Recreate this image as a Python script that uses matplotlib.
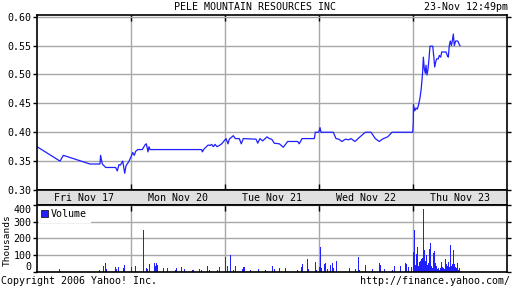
import matplotlib
matplotlib.use("Agg")
import matplotlib.pyplot as plt
from matplotlib.patches import Patch

plt.rcParams['font.family'] = ['DejaVu Sans Mono']
FS = 7.2

title = "PELE MOUNTAIN RESOURCES INC"
stamp = "23-Nov 12:49pm"
day_labels = ["Fri Nov 17", "Mon Nov 20", "Tue Nov 21", "Wed Nov 22", "Thu Nov 23"]
price_ticks = [0.30, 0.35, 0.40, 0.45, 0.50, 0.55, 0.60]
vol_ticks = [0, 100, 200, 300, 400]

# time in trading days since Fri open, price in $
price_t = [0.000, 0.245, 0.280, 0.564, 0.670, 0.676, 0.695, 0.731, 0.837, 0.854,
           0.872, 0.886, 0.912, 0.933, 0.947, 0.976, 0.982,
           1.007, 1.018, 1.035, 1.050, 1.071, 1.120, 1.149, 1.163, 1.181, 1.191,
           1.202, 1.752, 1.759, 1.777, 1.822, 1.840, 1.858, 1.876, 1.894, 1.915,
           1.939, 1.965,
           2.011, 2.032, 2.046, 2.088, 2.110, 2.152, 2.173, 2.195, 2.330, 2.348,
           2.372, 2.401, 2.447, 2.471, 2.497, 2.524, 2.578, 2.620, 2.667, 2.773,
           2.790, 2.819, 2.950, 2.961, 2.997,
           3.011, 3.021, 3.152, 3.181, 3.210, 3.245, 3.280, 3.316, 3.340, 3.383,
           3.429, 3.493, 3.553, 3.599, 3.641, 3.684, 3.731, 3.777, 3.997,
           4.003, 4.005, 4.018, 4.032, 4.046, 4.060, 4.074, 4.088, 4.103, 4.110,
           4.120, 4.131, 4.138, 4.149, 4.160, 4.170, 4.181, 4.210, 4.220, 4.231,
           4.242, 4.252, 4.269, 4.280, 4.295, 4.305, 4.351, 4.365, 4.376, 4.386,
           4.397, 4.408, 4.418, 4.429, 4.439, 4.454, 4.476, 4.489, 4.500]
price = [0.375, 0.350, 0.360, 0.345, 0.345, 0.360, 0.345, 0.339, 0.339, 0.333,
         0.344, 0.343, 0.350, 0.329, 0.342, 0.349, 0.351,
         0.360, 0.365, 0.360, 0.367, 0.370, 0.370, 0.378, 0.380, 0.366, 0.375,
         0.370, 0.370, 0.366, 0.371, 0.378, 0.377, 0.379, 0.375, 0.379, 0.375,
         0.377, 0.380,
         0.389, 0.380, 0.388, 0.394, 0.389, 0.389, 0.380, 0.389, 0.388, 0.381,
         0.389, 0.385, 0.392, 0.389, 0.388, 0.381, 0.380, 0.374, 0.384, 0.384,
         0.380, 0.389, 0.389, 0.400, 0.400,
         0.408, 0.400, 0.400, 0.389, 0.388, 0.384, 0.388, 0.387, 0.389, 0.384,
         0.391, 0.400, 0.400, 0.389, 0.384, 0.389, 0.392, 0.400, 0.400,
         0.418, 0.448, 0.437, 0.442, 0.440, 0.448, 0.459, 0.476, 0.505, 0.530,
         0.510, 0.502, 0.516, 0.499, 0.510, 0.527, 0.549, 0.549, 0.533, 0.513,
         0.522, 0.527, 0.527, 0.533, 0.530, 0.539, 0.539, 0.533, 0.530, 0.550,
         0.558, 0.550, 0.558, 0.570, 0.550, 0.558, 0.558, 0.553, 0.550]

# volume in thousands
vol_t = [0.241, 0.663, 0.705, 0.727, 0.737, 0.833, 0.851, 0.865, 0.915, 0.929,
         1.003, 1.046, 1.131, 1.163, 1.173, 1.195, 1.248, 1.263, 1.273, 1.287,
         1.344, 1.386, 1.476, 1.486, 1.532, 1.567, 1.652, 1.663, 1.727, 1.755,
         1.812, 1.840, 1.918, 1.939,
         2.003, 2.029, 2.056, 2.088, 2.110, 2.184, 2.195, 2.205, 2.269, 2.354,
         2.436, 2.503, 2.529, 2.578, 2.641, 2.766, 2.812, 2.822, 2.876, 2.886,
         2.961, 2.971,
         3.003, 3.014, 3.024, 3.056, 3.067, 3.088, 3.120, 3.141, 3.152, 3.184,
         3.322, 3.386, 3.418, 3.429, 3.493, 3.567, 3.641, 3.652, 3.695, 3.784,
         3.805, 3.869, 3.922, 3.933, 3.954, 3.986,
         4.007, 4.018, 4.029, 4.039, 4.050, 4.061, 4.071, 4.082, 4.093, 4.103,
         4.114, 4.125, 4.135, 4.146, 4.156, 4.167, 4.178, 4.188, 4.199, 4.210,
         4.220, 4.231, 4.241, 4.252, 4.263, 4.273, 4.284, 4.295, 4.305, 4.316,
         4.327, 4.337, 4.348, 4.359, 4.369, 4.380, 4.390, 4.401, 4.412, 4.422,
         4.433, 4.444, 4.454, 4.465, 4.476, 4.486, 4.497]
volume = [16, 10, 34, 52, 16, 28, 16, 30, 24, 40,
          28, 34, 250, 22, 16, 44, 52, 34, 50, 40,
          20, 20, 10, 20, 28, 16, 8, 8, 14, 8,
          34, 8, 8, 28,
          90, 34, 100, 8, 34, 14, 28, 28, 8, 16,
          8, 34, 14, 20, 20, 8, 28, 44, 76, 14,
          56, 8,
          28, 148, 20, 44, 52, 14, 40, 50, 20, 64,
          20, 14, 88, 8, 40, 16, 52, 40, 14, 10,
          34, 34, 50, 44, 28, 28,
          116, 250, 40, 104, 148, 34, 56, 64, 76, 80,
          376, 130, 64, 100, 40, 50, 136, 174, 34, 24,
          110, 124, 50, 34, 16, 24, 8, 20, 56, 28,
          20, 16, 76, 44, 34, 60, 28, 160, 34, 44,
          130, 44, 28, 20, 50, 10, 24]

blue = "#1f1fff"
grid_c = "#a8a8a8"
band_c = "#e0e0e0"

fig = plt.figure(figsize=(5.12, 2.88), dpi=100)
W, H = 512.0, 288.0

def box(l, t, r, b):
    return [l / W, 1 - b / H, (r - l) / W, (b - t) / H]

ax = fig.add_axes(box(37, 15, 507, 190))
band = fig.add_axes(box(37, 190, 507, 205))
axv = fig.add_axes(box(37, 205, 507, 271.5))

# price panel
ax.plot(price_t, price, color=blue, lw=0.9)
ax.set_xlim(0, 5)
ax.set_ylim(0.30, 0.603)
ax.set_yticks(price_ticks)
ax.set_yticklabels(["%.2f" % p for p in price_ticks], fontsize=FS)
ax.set_xticks([1, 2, 3, 4])
ax.tick_params(axis='x', direction='in', top=True, bottom=True, length=4,
               labelbottom=False, width=1)
ax.tick_params(axis='y', direction='out', right=True, length=3, pad=1, width=1)
ax.grid(True, color=grid_c, lw=1)
ax.set_axisbelow(True)
for s in ax.spines.values():
    s.set_linewidth(1.2)

# date band
band.set_facecolor(band_c)
band.set_xlim(0, 5)
band.set_ylim(0, 1)
band.set_xticks([])
band.set_yticks([])
for i, lab in enumerate(day_labels):
    band.text(i + 0.5, 0.45, lab, ha='center', va='center', fontsize=FS)
for s in band.spines.values():
    s.set_linewidth(1.2)

# volume panel
axv.bar(vol_t, volume, width=0.0106, color=blue, align='center',
        linewidth=0, antialiased=False)
axv.set_xlim(0, 5)
axv.set_ylim(0, 400)
axv.set_yticks(vol_ticks)
axv.set_yticklabels([str(v) for v in vol_ticks], fontsize=FS)
axv.get_yticklabels()[-1].set_va('top')
axv.get_yticklabels()[0].set_va('bottom')
axv.set_xticks([1, 2, 3, 4])
axv.tick_params(axis='x', direction='in', top=True, bottom=False, length=4,
                labelbottom=False, width=1)
axv.tick_params(axis='y', direction='out', right=True, length=3, pad=1, width=1)
axv.grid(True, color=grid_c, lw=1)
axv.set_axisbelow(True)
for s in axv.spines.values():
    s.set_linewidth(1.2)
leg = axv.legend(handles=[Patch(facecolor=blue, edgecolor='black', lw=0.5, label="Volume")],
                 loc='upper left', fontsize=FS, frameon=True, fancybox=False,
                 handlelength=0.7, handleheight=0.7, handletextpad=0.3,
                 borderpad=0.25, borderaxespad=0.15)
leg.get_frame().set_edgecolor('white')
leg.get_frame().set_facecolor('white')
leg.get_frame().set_alpha(1)

fig.text(7.5 / W, 1 - 240 / H, "Thousands", rotation=90, ha='center', va='center',
         fontsize=6.8)
fig.text(255.5 / W, 1 - 7 / H, title, ha='center', va='center', fontsize=FS)
fig.text(508 / W, 1 - 7 / H, stamp, ha='right', va='center', fontsize=FS)
fig.text(1 / W, 1 - 281 / H, "Copyright 2006 Yahoo! Inc.", ha='left', va='center', fontsize=FS)
fig.text(510 / W, 1 - 281 / H, "http://finance.yahoo.com/", ha='right', va='center', fontsize=FS)

fig.savefig("out.png", dpi=100)
